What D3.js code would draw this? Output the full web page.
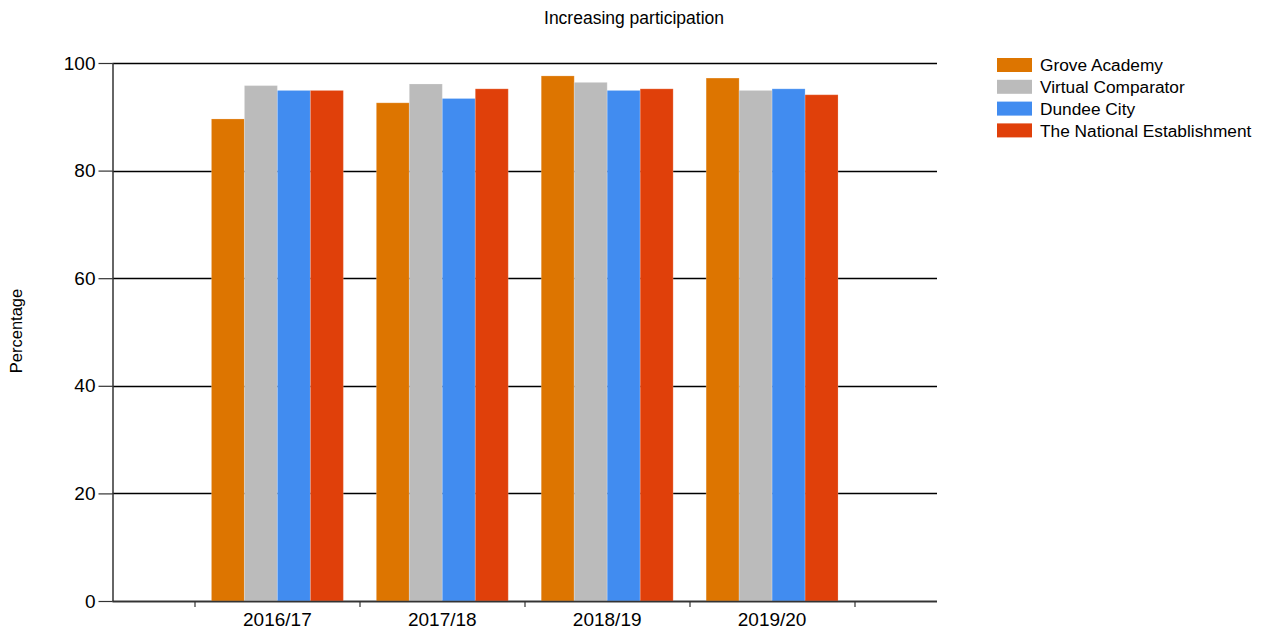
<!DOCTYPE html>
<html>
<head>
<meta charset="utf-8">
<script src="https://cdn.jsdelivr.net/npm/d3@7"></script>
<style>
  body { margin: 0; background: #fff; }
  text { font-family: 'Liberation Sans', Arial, sans-serif; fill: #000; }
</style>
</head>
<body>
<div id="chart"></div>
<script>
let years = ['2016/17', '2017/18', '2018/19', '2019/20']
let seriesNames = ['Grove Academy', 'Virtual Comparator', 'Dundee City', 'The National Establishment']
let seriesColors = ['#dd7500', '#bbbbbb', '#418cf0', '#e0400a']
let groveAcademy = [89.6, 92.6, 97.6, 97.2]
let virtualComparator = [95.8, 96.1, 96.4, 94.9]
let dundeeCity = [94.9, 93.4, 94.9, 95.2]
let nationalEstablishment = [94.9, 95.2, 95.2, 94.1]
let yTicks = [0, 20, 40, 60, 80, 100]

let seriesValues = [groveAcademy, virtualComparator, dundeeCity, nationalEstablishment]

let width = 1265
let height = 635
let margin = { top: 63, left: 112.5, right: 328, bottom: 34 }
let plotW = width - margin.left - margin.right
let plotH = height - margin.top - margin.bottom

let svg = d3
  .select('#chart')
  .append('svg')
  .attr('width', width)
  .attr('height', height)

let g = svg
  .append('g')
  .attr('transform', 'translate(' + margin.left + ',' + margin.top + ')')

let xPositionScale = d3
  .scaleBand()
  .domain(years)
  .range([0, plotW])
  .paddingInner(0)
  .paddingOuter(0.5)

let bw = xPositionScale.bandwidth()
let xInner = d3
  .scaleBand()
  .domain(seriesNames)
  .range([bw * 0.1, bw * 0.9])

let yPositionScale = d3.scaleLinear().domain([0, 100]).range([plotH, 0])
let colorScale = d3.scaleOrdinal().domain(seriesNames).range(seriesColors)

// title
svg
  .append('text')
  .attr('x', 634)
  .attr('y', 24)
  .attr('text-anchor', 'middle')
  .attr('font-size', 17.5)
  .text('Increasing participation')

// y axis label
svg
  .append('text')
  .attr('transform', 'translate(22,331) rotate(-90)')
  .attr('text-anchor', 'middle')
  .attr('font-size', 16.5)
  .text('Percentage')

// gridlines
g.selectAll('.grid')
  .data(yTicks)
  .enter()
  .append('line')
  .attr('class', 'grid')
  .attr('x1', 0)
  .attr('x2', plotW)
  .attr('y1', d => Math.round(yPositionScale(d)) + 0.5)
  .attr('y2', d => Math.round(yPositionScale(d)) + 0.5)
  .attr('stroke', '#000')
  .attr('stroke-width', 1.3)

// bars
let rows = []
years.forEach((y, i) => {
  seriesNames.forEach((s, j) => {
    rows.push({ year: y, series: s, value: seriesValues[j][i] })
  })
})

g.selectAll('.bar')
  .data(rows)
  .enter()
  .append('rect')
  .attr('class', 'bar')
  .attr('x', d => xPositionScale(d.year) + xInner(d.series))
  .attr('width', xInner.bandwidth())
  .attr('y', d => yPositionScale(d.value))
  .attr('height', d => plotH - yPositionScale(d.value))
  .attr('fill', d => colorScale(d.series))
  .attr('stroke', 'rgba(255,255,255,0.2)')
  .attr('stroke-width', 1)

// y axis
let yAxis = d3
  .axisLeft(yPositionScale)
  .tickValues(yTicks)
  .tickSize(14)
  .tickPadding(3)
g.append('g')
  .attr('class', 'axis y-axis')
  .call(yAxis)
g.selectAll('.y-axis .domain').remove()
g.append('line')
  .attr('x1', 0.5)
  .attr('x2', 0.5)
  .attr('y1', 0)
  .attr('y2', plotH)
  .attr('stroke', '#333')
  .attr('stroke-width', 1.5)

// x axis
let xAxis = d3.axisBottom(xPositionScale).tickSize(0).tickPadding(12)
g.append('g')
  .attr('class', 'axis x-axis')
  .attr('transform', 'translate(0,' + plotH + ')')
  .call(xAxis)
g.selectAll('.x-axis .domain').remove()
g.append('line')
  .attr('x1', 0)
  .attr('x2', plotW)
  .attr('y1', plotH + 0.5)
  .attr('y2', plotH + 0.5)
  .attr('stroke', '#333')
  .attr('stroke-width', 1.5)

let boundaries = years.map(d => xPositionScale(d)).concat([xPositionScale(years[years.length - 1]) + bw])
g.selectAll('.xtick')
  .data(boundaries)
  .enter()
  .append('line')
  .attr('class', 'xtick')
  .attr('x1', d => Math.round(d) + 0.5)
  .attr('x2', d => Math.round(d) + 0.5)
  .attr('y1', plotH)
  .attr('y2', plotH + 6)
  .attr('stroke', '#333')
  .attr('stroke-width', 1.2)

svg.selectAll('.axis text').attr('font-size', 19).attr('font-family', "'Liberation Sans', Arial, sans-serif").attr('fill', '#000')
svg.selectAll('.y-axis .tick line').attr('stroke', '#333').attr('stroke-width', 1.2)

// legend
let legend = svg
  .append('g')
  .attr('transform', 'translate(997,58)')

let items = legend
  .selectAll('.legend-item')
  .data(seriesNames)
  .enter()
  .append('g')
  .attr('class', 'legend-item')
  .attr('transform', (d, i) => 'translate(0,' + i * 21.8 + ')')

items
  .append('rect')
  .attr('width', 35)
  .attr('height', 14)
  .attr('fill', d => colorScale(d))

items
  .append('text')
  .attr('x', 43)
  .attr('y', 7)
  .attr('dy', '0.36em')
  .attr('font-size', 17.3)
  .text(d => d)
</script>
</body>
</html>
